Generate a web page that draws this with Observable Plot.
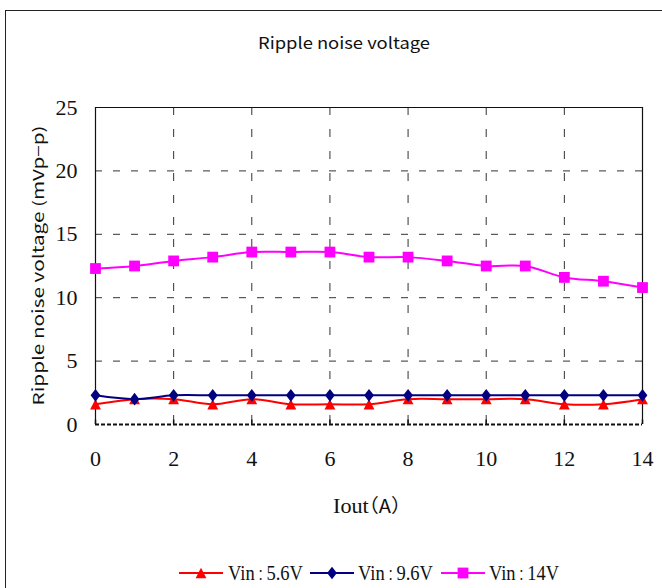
<!DOCTYPE html>
<html>
<head>
<meta charset="utf-8">
<script src="https://cdn.jsdelivr.net/npm/d3@7"></script>
<script src="https://cdn.jsdelivr.net/npm/@observablehq/plot@0.6"></script>
<style>
  html, body { margin: 0; padding: 0; background: #fff; }
  #wrap { position: relative; width: 662px; height: 588px; overflow: hidden; background: #fff; }
  #border { position: absolute; left: 5px; top: 10px; width: 720px; height: 640px; border: 1.6px solid #222; box-sizing: border-box; }
  #chart { position: absolute; left: 0; top: 0; }
  #chart svg text { font-family: "Liberation Serif", "Times New Roman", serif; }
  .ovl { position: absolute; white-space: nowrap; color: #111; transform-origin: 0 50%; }
  #title { font-family: "Noto Sans CJK JP", "Noto Sans", sans-serif; font-size: 16px; }
  #ylab { font-family: "Noto Sans CJK JP", "Noto Sans", sans-serif; font-size: 15px; }
  #xlab { font-family: "Liberation Serif", serif; font-size: 21px; }
  #xlab .p { font-family: "Noto Sans CJK JP", sans-serif; font-size: 19px; font-feature-settings: "halt" 1; }
  .leg { font-family: "Liberation Serif", serif; font-size: 22px; }
  .leg .c { font-family: "Noto Sans CJK JP", sans-serif; font-size: 14px; }
  .sw { position: absolute; }
</style>
</head>
<body>
<div id="wrap">
  <div id="border"></div>
  <div id="chart"></div>
</div>
<script>
// ---- data ----
const iout = [0, 1, 2, 3, 4, 5, 6, 7, 8, 9, 10, 11, 12, 13, 14];
const vin56 = [1.6, 2.0, 2.0, 1.6, 2.0, 1.6, 1.6, 1.6, 2.0, 2.0, 2.0, 2.0, 1.6, 1.6, 2.0];
const vin96 = [2.3, 2.0, 2.3, 2.3, 2.3, 2.3, 2.3, 2.3, 2.3, 2.3, 2.3, 2.3, 2.3, 2.3, 2.3];
const vin14 = [12.3, 12.5, 12.9, 13.2, 13.6, 13.6, 13.6, 13.2, 13.2, 12.9, 12.5, 12.5, 11.6, 11.3, 10.8];
const xTicks = [0, 2, 4, 6, 8, 10, 12, 14];
const yTicks = [0, 5, 10, 15, 20, 25];
const seriesNames = ["Vin：5.6V", "Vin：9.6V", "Vin：14V"];
const seriesColors = ["#FF0000", "#000080", "#FF00FF"];
const titleText = "Ripple noise voltage";
const yLabel = "Ripple noise voltage (mVp−p)";
const xLabelMain = "Iout";
const xLabelUnit = "（A）";

// marker shapes (bounding-box centred, like the spreadsheet markers)
const triSym = {draw(ctx) { const w = 5.4, h = 5.2; ctx.moveTo(0, -h); ctx.lineTo(w, h); ctx.lineTo(-w, h); ctx.closePath(); }};
const diaSym = {draw(ctx) { const w = 4.9, h = 6.3; ctx.moveTo(0, -h); ctx.lineTo(w, 0); ctx.lineTo(0, h); ctx.lineTo(-w, 0); ctx.closePath(); }};
const sqSym = {draw(ctx) { const s = 5.4; ctx.rect(-s, -s, 2 * s, 2 * s); }};
const seriesSymbols = [triSym, diaSym, sqSym];

const allSeries = [vin56, vin96, vin14];
const rows = [];
allSeries.forEach((vals, s) => vals.forEach((v, i) => rows.push({x: iout[i], y: v, s})));

const gridStroke = "#333";
const marks = [
  Plot.ruleY(yTicks.filter(d => d > 0 && d < 25), {stroke: gridStroke, strokeWidth: 1, strokeDasharray: "7,11"}),
  Plot.ruleX(xTicks.filter(d => d > 0 && d < 14), {stroke: gridStroke, strokeWidth: 1, strokeDasharray: "8,14"}),
  Plot.ruleY([25], {stroke: "#111", strokeWidth: 1.2}),
  Plot.ruleX([0, 14], {stroke: "#111", strokeWidth: 1.2}),
  Plot.ruleY([0], {stroke: "#111", strokeWidth: 2.2, strokeDasharray: "4,2"}),
  Plot.ruleX(xTicks, {y1: 0, y2: 0.35, stroke: "#111", strokeWidth: 1.5}),
  Plot.axisX({ticks: xTicks, tickSize: 0, tickPadding: 26, fontSize: 22, label: null, tickFormat: d => String(d)}),
  Plot.axisY({ticks: yTicks, tickSize: 0, tickPadding: 18, fontSize: 22, label: null, tickFormat: d => String(d)})
];
allSeries.forEach((vals, s) => {
  const data = rows.filter(r => r.s === s);
  marks.push(Plot.line(data, {x: "x", y: "y", stroke: seriesColors[s], strokeWidth: 2, curve: "catmull-rom"}));
  marks.push(Plot.dot(data, {x: "x", y: "y", fill: seriesColors[s], stroke: "none", symbol: seriesSymbols[s], r: 5}));
});

const chart = Plot.plot({
  width: 662,
  height: 588,
  marginLeft: 95,
  marginRight: 20,
  marginTop: 107,
  marginBottom: 164,
  x: {domain: [0, 14]},
  y: {domain: [0, 25]},
  style: {background: "transparent", color: "#111", fontFamily: "Liberation Serif"},
  marks
});
document.getElementById("chart").appendChild(chart);

const wrap = document.getElementById("wrap");
function addText(id, cls, html, left, cy, targetW, rotate) {
  const d = document.createElement("div");
  if (id) d.id = id;
  d.className = "ovl " + (cls || "");
  d.innerHTML = html;
  wrap.appendChild(d);
  const w = d.getBoundingClientRect().width;
  const h = d.getBoundingClientRect().height;
  const sx = targetW ? targetW / w : 1;
  if (rotate) {
    d.style.left = (left - w / 2) + "px";
    d.style.top = (cy - h / 2) + "px";
    d.style.transformOrigin = "50% 50%";
    d.style.transform = `rotate(-90deg) scaleX(${sx})`;
  } else {
    d.style.left = left + "px";
    d.style.top = (cy - h / 2) + "px";
    d.style.transform = `scaleX(${sx})`;
  }
  return d;
}
addText("title", "", titleText, 258, 42, 172);
addText("ylab", "", yLabel, 38, 265, 280, true);
addText("xlab", "", `${xLabelMain}<span class="p">${xLabelUnit}</span>`, 333, 505, 68);

// legend
const legLeft = [179, 310, 441];
const legText = [228, 358, 489];
const legW = [75, 75, 70];
seriesNames.forEach((name, s) => {
  const sw = document.createElementNS("http://www.w3.org/2000/svg", "svg");
  sw.setAttribute("width", 44); sw.setAttribute("height", 16);
  sw.setAttribute("class", "sw");
  sw.style.left = legLeft[s] + "px"; sw.style.top = (573 - 8) + "px";
  const ln = document.createElementNS("http://www.w3.org/2000/svg", "line");
  ln.setAttribute("x1", 0); ln.setAttribute("x2", 44); ln.setAttribute("y1", 8); ln.setAttribute("y2", 8);
  ln.setAttribute("stroke", seriesColors[s]); ln.setAttribute("stroke-width", 2);
  sw.appendChild(ln);
  const p = document.createElementNS("http://www.w3.org/2000/svg", "path");
  p.setAttribute("d", d3.symbol(seriesSymbols[s], 64)());
  p.setAttribute("transform", "translate(22,8)");
  p.setAttribute("fill", seriesColors[s]);
  sw.appendChild(p);
  wrap.appendChild(sw);
  const parts = name.split("：");
  addText(null, "leg", `${parts[0]}<span class="c">：</span>${parts[1]}`, legText[s], 573, legW[s]);
});
</script>
</body>
</html>
